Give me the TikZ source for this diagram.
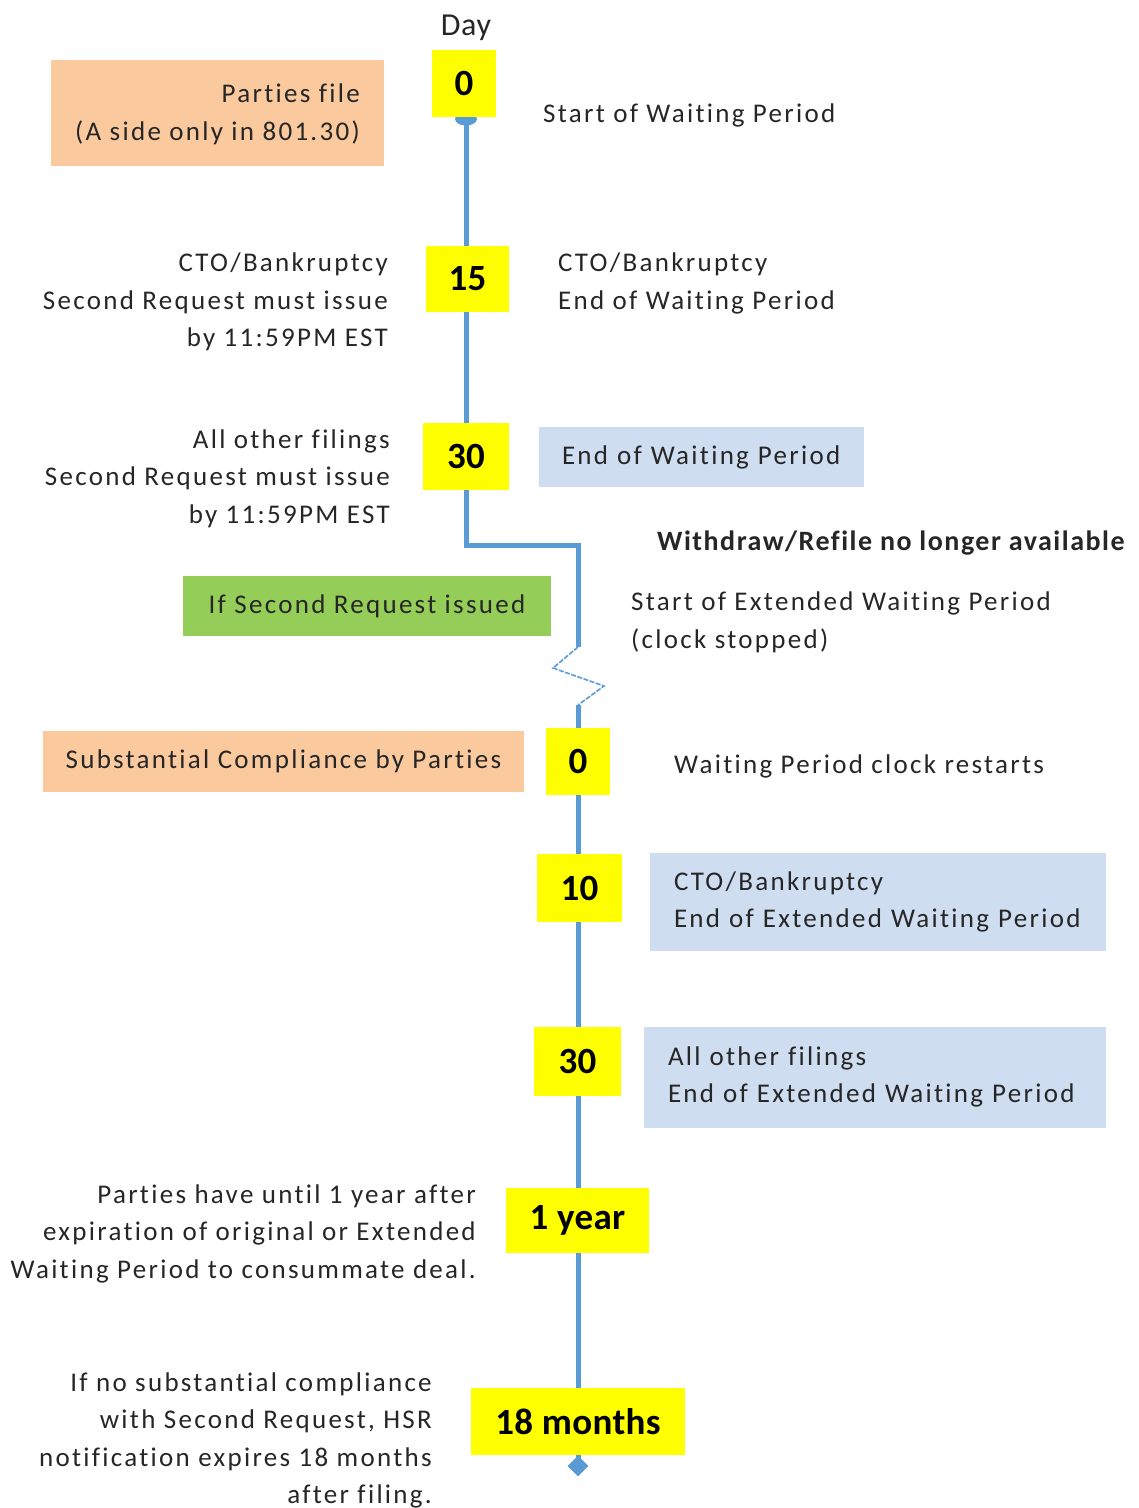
\documentclass[tikz,border=0pt]{standalone}
\usepackage{fontspec}
\setmainfont{Carlito}[LetterSpace=8.5,Ligatures=CommonOff]
\newfontfamily\boldnum{Carlito}[LetterSpace=1]
\newfontfamily\boldwd{Carlito}[LetterSpace=5.4,Ligatures=CommonOff]
\newfontfamily\dayfont{Carlito}[LetterSpace=2]
\usetikzlibrary{shapes.geometric}
\definecolor{tlblue}{HTML}{5B9BD5}
\definecolor{boxyellow}{HTML}{FFFF00}
\definecolor{boxorange}{RGB}{250,201,158}
\definecolor{boxblue}{RGB}{207,221,241}
\definecolor{boxgreen}{RGB}{148,206,88}
\begin{document}
\begin{tikzpicture}[x=1pt,y=-1pt,
  txt/.style={inner sep=0pt,yshift=-2.5pt,font=\fontsize{27}{37.5}\selectfont,text=black!85},
  daybox/.style={fill=boxyellow,inner sep=0pt,font=\boldnum\bfseries\fontsize{37}{40}\selectfont},
  tbox/.style={inner sep=0pt,font=\fontsize{27}{37.5}\selectfont,text=black!85},
  tline/.style={draw=tlblue,line width=5pt},
  zig/.style={draw=tlblue,line width=1.6pt,dash pattern=on 5pt off 1.5pt}]
\useasboundingbox (0,0) rectangle (1139,1508);
% timeline coordinates
\coordinate (c0) at (466,119);
\coordinate (b1) at (466,545);
\coordinate (b2) at (578,545);
\coordinate (z0) at (578,647);
\coordinate (z1) at (553,668);
\coordinate (z2) at (604,686);
\coordinate (z3) at (578,705);
\coordinate (cend) at (578,1466);
\draw[tline] (c0) -- (b1) -- (b2) -- (z0);
\draw[zig] (z0) -- (z1) -- (z2) -- (z3);
\draw[tline] (z3) -- (cend);
\node[fill=tlblue,ellipse,minimum width=22pt,minimum height=13pt,inner sep=0pt] (cap) at (c0) {};
\node[fill=tlblue,diamond,minimum width=21pt,minimum height=21pt,inner sep=0pt] (dia) at (cend) {};
% day boxes
\node[txt,font=\dayfont\fontsize{32}{36}\selectfont] (day) at (466,25) {Day};
\node[daybox,minimum width=64pt,minimum height=67pt] (d0) at (464,83.5) {0};
\node[daybox,minimum width=83pt,minimum height=66pt] (d15) at (467.5,279) {15};
\node[daybox,minimum width=86pt,minimum height=67pt] (d30) at (466,456.5) {30};
\node[daybox,minimum width=64pt,minimum height=67pt] (e0) at (578,761.5) {0};
\node[daybox,minimum width=85pt,minimum height=68pt] (e10) at (579.5,888) {10};
\node[daybox,minimum width=87pt,minimum height=69pt] (e30) at (577.5,1061.5) {30};
\node[daybox,minimum width=143pt,minimum height=65pt] (y1) at (577.5,1220.5) {1 year};
\node[daybox,minimum width=214pt,minimum height=67pt] (m18) at (578,1421.5) {18 months};
% coloured boxes
\node[fill=boxorange,minimum width=333pt,minimum height=106pt,inner sep=0pt] (file) at (217.5,113) {};
\node[txt,anchor=east,align=right] (filetxt) at (360,112) {Parties file\\(A side only in 801.30)};
\node[tbox,fill=boxblue,minimum width=325pt,minimum height=60pt,text width=279pt,align=left] (endwp) at (701.5,457) {End of Waiting Period};
\node[tbox,fill=boxgreen,minimum width=368pt,minimum height=60pt,align=center] (sr) at (367,606) {If Second Request issued};
\node[tbox,fill=boxorange,minimum width=481pt,minimum height=61pt,align=center] (sc) at (283.5,761.5) {Substantial Compliance by Parties};
\node[tbox,fill=boxblue,minimum width=456pt,minimum height=98pt,text width=408pt,align=left] (ecto) at (878,902) {CTO/Bankruptcy\\End of Extended Waiting Period};
\node[tbox,fill=boxblue,minimum width=462pt,minimum height=101pt,text width=414pt,align=left] (eall) at (875,1077) {All other filings\\End of Extended Waiting Period};
% plain texts
\node[txt,anchor=west] (startwp) at (543,113) {Start of Waiting Period};
\node[txt,anchor=east,align=right] (l15) at (388,299.5) {CTO/Bankruptcy\\Second Request must issue\\by 11:59PM EST};
\node[txt,anchor=west,align=left] (r15) at (558,281) {CTO/Bankruptcy\\End of Waiting Period};
\node[txt,anchor=east,align=right] (l30) at (390,476) {All other filings\\Second Request must issue\\by 11:59PM EST};
\node[txt,anchor=west,font=\boldwd\bfseries\fontsize{28}{30}\selectfont] (wd) at (657,541) {Withdraw/Refile no longer available};
\node[txt,anchor=west,align=left] (sewp) at (631,620) {Start of Extended Waiting Period\\(clock stopped)};
\node[txt,anchor=west] (restart) at (674,764) {Waiting Period clock restarts};
\node[txt,anchor=east,align=right] (l1y) at (476,1231) {Parties have until 1 year after\\expiration of original or Extended\\Waiting Period to consummate deal.};
\node[txt,anchor=east,align=right] (l18) at (432,1438) {If no substantial compliance\\with Second Request, HSR\\notification expires 18 months\\after filing.};
\end{tikzpicture}
\end{document}
